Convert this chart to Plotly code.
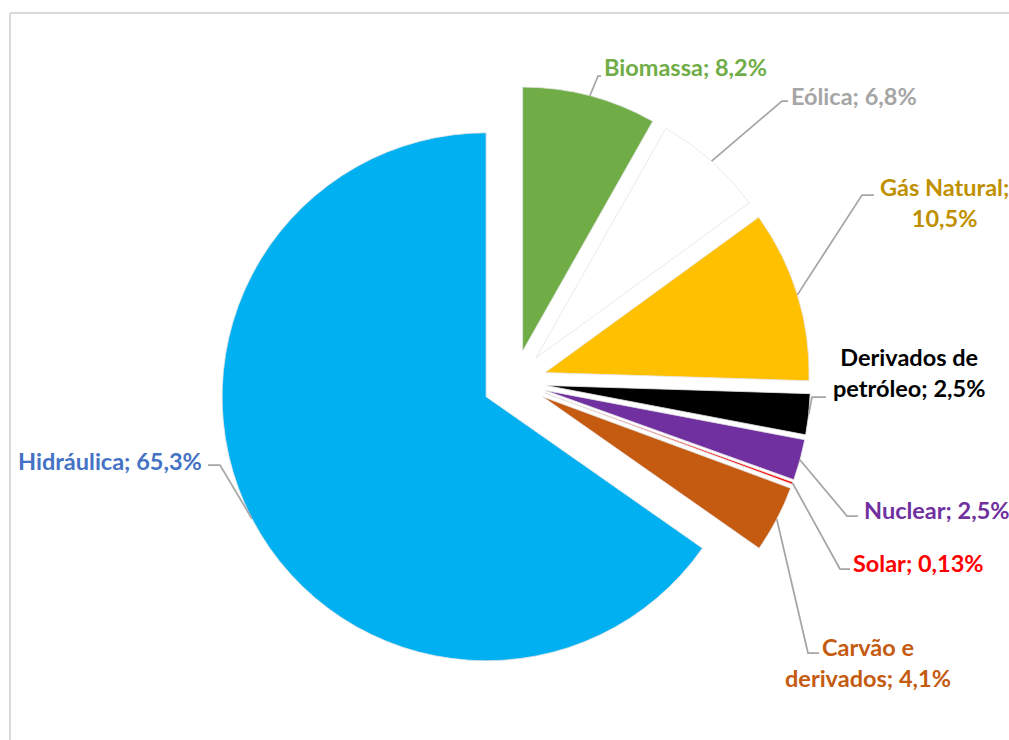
import math
import plotly.graph_objects as go

# ---- data ----
labels = ["Biomassa", "Eólica", "Gás Natural", "Derivados de petróleo",
          "Nuclear", "Solar", "Carvão e derivados", "Hidráulica"]
values = [8.2, 6.8, 10.5, 2.5, 2.5, 0.13, 4.1, 65.3]

# ---- styles ----
slice_colors = ["#70AD47", "#FFFFFF", "#FFC000", "#000000",
                "#7030A0", "#FF0000", "#C55A11", "#00B0F0"]
text_colors = ["#70AD47", "#A5A5A5", "#BF9000", "#000000",
               "#7030A0", "#FF0000", "#C55A11", "#4472C4"]
# label line-wrapping (layout only)
wrap_before = [None, None, "value", "petróleo", None, None, "derivados;", None]

W, H = 1009, 740
pull = 0.1212
# pie box in pixels (layout)
box_x0, box_x1 = 218.5, 810.5
box_y0, box_y1 = 86.0, 678.0
cx, cy = (box_x0 + box_x1) / 2, (box_y0 + box_y1) / 2
R = (box_x1 - box_x0) / (2 + 2 * pull)

# label anchor positions (pixels, layout): text center, knee, line end
label_pos = [
    dict(tx=685, ty=67, knee=(598, 76), end=(601, 76)),
    dict(tx=854, ty=96, knee=(782, 101), end=(788, 101)),
    dict(tx=944, ty=202, knee=(862, 195), end=(874, 195)),
    dict(tx=909, ty=373, knee=(812, 397), end=(826, 397)),
    dict(tx=937, ty=510, knee=(847, 516), end=(858, 516)),
    dict(tx=918, ty=563, knee=(840, 569), end=(850, 569)),
    dict(tx=868, ty=662, knee=(808, 653), end=(819, 653)),
    dict(tx=110, ty=461, knee=(220, 465), end=(208, 465)),
]


def px(x):
    return x / W


def py(y):
    return 1 - y / H


def fmt(v):
    return str(v).replace(".", ",")


fig = go.Figure(go.Pie(
    labels=labels, values=values, sort=False, direction="clockwise",
    rotation=0, pull=[pull] * len(values),
    marker=dict(colors=slice_colors, line=dict(width=0.8, color="#E4E4E4")),
    textinfo="none", hoverinfo="label+percent", showlegend=False,
    domain=dict(x=[px(box_x0), px(box_x1)], y=[py(box_y1), py(box_y0)]),
))

shapes = [
    dict(type="line", xref="paper", yref="paper", x0=px(10), x1=1, y0=py(13), y1=py(13),
         line=dict(color="#D9D9D9", width=2)),
    dict(type="line", xref="paper", yref="paper", x0=px(10), x1=px(10), y0=py(13), y1=0,
         line=dict(color="#D9D9D9", width=2)),
]
annotations = []
total = sum(values)
cum = 0.0
for i, (lab, v) in enumerate(zip(labels, values)):
    mid = (cum + v / 2) / total * 2 * math.pi
    cum += v
    dx, dy = math.sin(mid), -math.cos(mid)
    sx, sy = cx + (R + pull * R) * dx, cy + (R + pull * R) * dy
    p = label_pos[i]
    kx, ky = p["knee"]
    ex, ey = p["end"]
    shapes.append(dict(
        type="path", xref="paper", yref="paper",
        path=f"M {px(sx)},{py(sy)} L {px(kx)},{py(ky)} L {px(ex)},{py(ey)}",
        line=dict(color="#A6A6A6", width=1.75)))
    text = f"{lab}; {fmt(v)}%"
    wb = wrap_before[i]
    if wb == "value":
        text = f"{lab};<br>{fmt(v)}%"
    elif wb:
        text = text.replace(" " + wb, "<br>" + wb, 1)
    annotations.append(dict(
        x=px(p["tx"]), y=py(p["ty"]), xref="paper", yref="paper",
        text=f"<b>{text}</b>", showarrow=False, align="center",
        xanchor="center", yanchor="middle",
        font=dict(family="Lato", size=23.5, color=text_colors[i])))

fig.update_layout(
    width=W, height=H, margin=dict(l=0, r=0, t=0, b=0),
    paper_bgcolor="white", plot_bgcolor="white",
    shapes=shapes, annotations=annotations,
)
fig.write_html("out.html")
